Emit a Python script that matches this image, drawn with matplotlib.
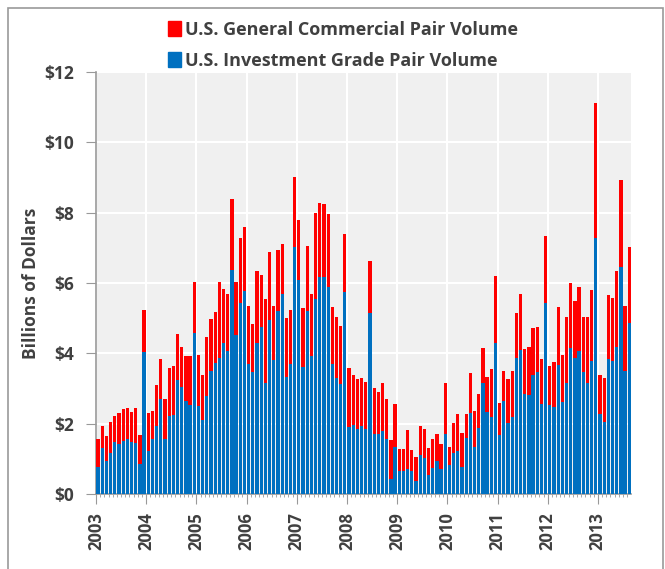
import matplotlib
matplotlib.use('Agg')
import matplotlib.pyplot as plt
from matplotlib.patches import Patch, Rectangle
import numpy as np

plt.rcParams['font.family'] = ['Open Sans', 'DejaVu Sans']

# monthly pair volume, billions of dollars, Jan 2003 - Aug 2013
years = list(range(2003, 2014))

inv_grade = [
    0.78, 1.30, 0.94, 1.18, 1.49, 1.42, 1.51, 1.55, 1.48, 1.45, 0.85, 4.05,  # 2003
    1.23, 1.55, 1.94, 2.69, 1.57, 2.23, 2.24, 3.23, 3.05, 2.65, 2.53, 4.59,  # 2004
    2.51, 2.10, 2.79, 3.51, 3.72, 3.87, 4.28, 4.07, 6.37, 4.51, 5.42, 5.78,  # 2005
    3.71, 3.48, 4.30, 4.76, 3.16, 4.95, 3.81, 5.20, 5.69, 3.32, 3.70, 7.01,  # 2006
    6.09, 3.61, 5.20, 3.91, 5.55, 6.18, 6.18, 5.89, 3.70, 3.31, 3.14, 5.74,  # 2007
    1.91, 1.96, 1.86, 1.94, 1.84, 5.14, 1.72, 1.72, 1.79, 1.57, 0.42, 1.35,  # 2008
    0.64, 0.64, 0.71, 0.64, 0.37, 1.11, 1.03, 0.54, 0.73, 0.95, 0.71, 1.70,  # 2009
    0.82, 1.18, 1.22, 0.78, 1.58, 2.31, 1.35, 1.89, 3.17, 2.34, 2.20, 4.30,  # 2010
    1.68, 2.65, 2.01, 2.20, 3.86, 4.09, 2.84, 2.81, 3.37, 3.48, 2.55, 5.42,  # 2011
    2.52, 2.48, 3.67, 2.63, 3.17, 4.15, 3.88, 4.07, 3.48, 3.17, 3.78, 7.29,  # 2012
    2.27, 2.04, 3.83, 3.77, 4.19, 6.46, 3.51, 4.85,                          # 2013
]

gen_commercial = [
    0.77, 0.63, 0.72, 0.86, 0.73, 0.87, 0.90, 0.89, 0.84, 0.99, 0.83, 1.17,  # 2003
    1.08, 0.81, 1.16, 1.14, 1.13, 1.35, 1.40, 1.32, 1.14, 1.27, 1.39, 1.44,  # 2004
    1.43, 1.27, 1.68, 1.47, 1.46, 2.16, 1.56, 1.63, 2.03, 1.53, 1.85, 1.80,  # 2005
    1.63, 1.34, 2.05, 1.46, 2.38, 1.92, 1.55, 1.73, 1.41, 1.68, 1.52, 1.99,  # 2006
    1.69, 1.69, 1.84, 1.78, 2.44, 2.10, 2.06, 2.06, 1.63, 1.73, 1.64, 1.65,  # 2007
    1.67, 1.41, 1.42, 1.35, 1.34, 1.48, 1.29, 1.18, 1.36, 1.14, 1.12, 1.20,  # 2008
    0.63, 0.64, 1.11, 0.61, 0.69, 0.83, 0.83, 0.78, 0.83, 0.76, 0.71, 1.47,  # 2009
    0.53, 0.85, 1.05, 0.96, 0.69, 1.12, 1.01, 0.95, 0.97, 1.00, 1.36, 1.91,  # 2010
    0.92, 0.86, 1.26, 1.31, 1.28, 1.60, 1.29, 1.36, 1.36, 1.27, 1.30, 1.92,  # 2011
    1.12, 1.26, 1.66, 1.32, 1.85, 1.86, 1.62, 1.81, 1.54, 1.85, 2.02, 3.82,  # 2012
    1.11, 1.25, 1.82, 1.80, 2.16, 2.47, 1.85, 2.18,                          # 2013
]

y_ticks = [0, 2, 4, 6, 8, 10, 12]
y_labels = ['$0', '$2', '$4', '$6', '$8', '$10', '$12']

BLUE = '#0070C0'
RED = '#FF0000'
TXT = '#404040'

fig = plt.figure(figsize=(6.65, 5.69), dpi=100)
ax = fig.add_axes([0.1444, 0.1318, 0.805, 0.7417])

x = np.arange(len(inv_grade)) + 0.5
ax.bar(x, inv_grade, width=0.78, color=BLUE, zorder=3)
ax.bar(x, gen_commercial, width=0.78, bottom=inv_grade, color=RED, zorder=3)

ax.set_facecolor('#F0F0F0')
ax.set_xlim(0, len(inv_grade))
ax.set_ylim(0, 12)

ax.set_yticks(y_ticks)
ax.set_yticklabels(y_labels, fontsize=12.5, fontweight='bold', color=TXT)
ax.set_xticks([12 * i for i in range(len(years))])
ax.set_xticklabels([str(y) for y in years], rotation=90, fontsize=12,
                   fontweight='bold', color=TXT)
ax.set_xticks(np.arange(len(inv_grade)), minor=True)
ax.tick_params(axis='x', which='minor', length=2, color='#999999')
ax.tick_params(axis='y', which='major', length=7, color='#999999', pad=9)
ax.tick_params(axis='x', which='major', length=7, color='#999999', pad=6)

ax.grid(True, which='major', color='white', linewidth=1.5, zorder=0)
ax.set_axisbelow(True)

for s in ['top', 'right']:
    ax.spines[s].set_visible(False)
for s in ['left', 'bottom']:
    ax.spines[s].set_color('#999999')
    ax.spines[s].set_linewidth(1.2)

ax.set_ylabel('Billions of Dollars', fontsize=12.5, fontweight='bold', color=TXT,
              labelpad=3)

handles = [Patch(color=RED, label='U.S. General Commercial Pair Volume'),
           Patch(color=BLUE, label='U.S. Investment Grade Pair Volume')]
leg = fig.legend(handles=handles, loc='upper left',
                 bbox_to_anchor=(168 / 665, 1 - 21 / 569), frameon=False,
                 fontsize=13, handlelength=0.7, handleheight=0.9,
                 handletextpad=0.25, labelspacing=0.7, borderpad=0,
                 borderaxespad=0)
for t in leg.get_texts():
    t.set_color(TXT)
    t.set_fontweight('bold')

fig.patches.append(Rectangle((8 / 665, -0.05), 655 / 665, 1.05 - 8 / 569,
                             transform=fig.transFigure, fill=False,
                             edgecolor='#999999', linewidth=1.2))

fig.savefig('out.png', dpi=100)
